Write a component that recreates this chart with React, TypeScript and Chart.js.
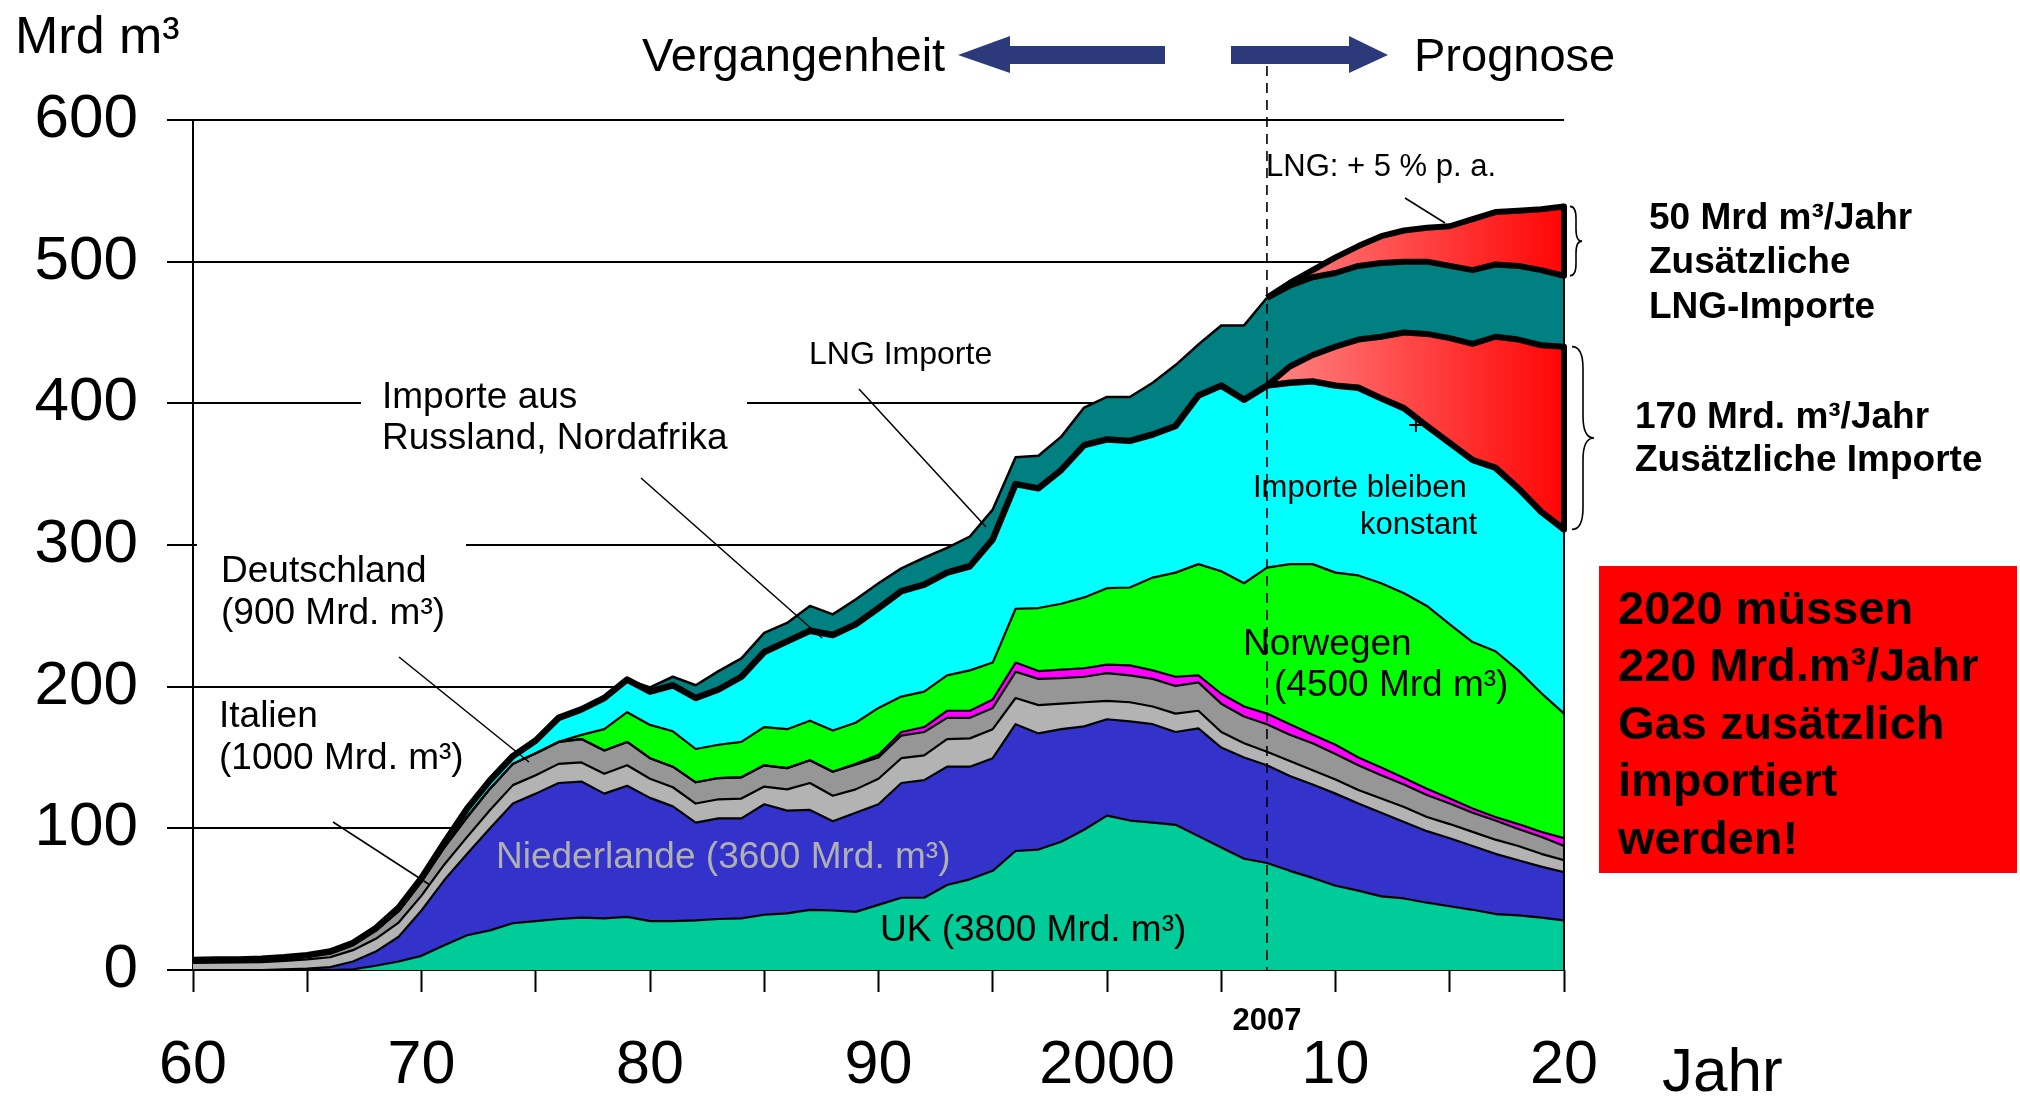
import React, { useEffect, useRef } from "react";
import { Chart, registerables } from "chart.js";

Chart.register(...registerables);

const FONT = "'Liberation Sans', Arial, Helvetica, sans-serif";

// Years on the x axis
const years: number[] = [];
for (let y = 1960; y <= 2020; y++) years.push(y);

const tickYears = [1960, 1970, 1980, 1990, 2000, 2010, 2020];
const tickLabels = ["60", "70", "80", "90", "2000", "10", "20"];
const forecastStart = 2007;

// Cumulative levels (Mrd m³): upper edge of each band, 1960..2020
const ukTop = [0, 0, 0, 0, 0, 0, 0, 0.5, 3, 6, 10, 17.5, 24.5, 28, 33, 34.5, 36, 37, 36.5, 37.5,
  34.5, 34.5, 35, 36, 36.5, 39, 40, 42.5, 42, 41, 46, 51, 51, 60, 64, 70, 84, 85, 90.5, 99,
  109, 105.5, 104, 102.5, 94.5, 86.5, 78.5, 75.5, 70, 65, 59.5, 56, 52, 50.5, 47.5, 45, 42.5, 39.5, 38.5, 37, 35];

const nlTop = [0, 0, 0, 0, 0.5, 1, 2, 6, 13, 23.5, 42, 63.5, 82, 100, 117.5, 124.5, 132, 133, 124.5, 130,
  121.5, 115.5, 104, 107, 107, 117, 112.5, 113, 105, 111, 117, 132, 134, 143.5, 143.5, 149.5, 173.5, 167, 170, 172,
  177, 175.5, 173.5, 168, 170.5, 157, 150, 144.5, 137, 131, 124.5, 117.5, 111, 104.5, 98, 93, 87.5, 82, 77.5, 73, 69];

const itTop = [5, 5.2, 5.4, 5.6, 6.5, 7.5, 9, 14, 22, 33.5, 52.5, 74.5, 94, 113, 130.5, 137.5, 145.5, 146.5, 138.5, 144.5,
  135, 129, 117.5, 120.5, 121, 129.5, 127.5, 132, 123, 127.5, 135, 149.5, 151.5, 163, 163.5, 170, 192, 187, 188, 189,
  190, 189, 186, 181, 183, 168, 160, 154, 147.5, 141, 134.5, 127, 121, 115, 108, 103, 97.5, 92, 87.5, 82, 77.5];

const deTop = [6, 6.2, 6.6, 7, 8, 9.5, 12, 18, 28, 41.5, 62.5, 86.5, 108, 128, 145.5, 153, 161, 163, 155, 161,
  149.5, 143.5, 132.5, 135.5, 136, 144.5, 142.5, 148, 140, 145, 150, 165.5, 168, 178, 178, 185, 210.5, 205.5, 206, 207,
  209.5, 208, 205.5, 200.5, 203, 188, 179, 173.5, 166, 160, 152.5, 144.5, 137.5, 131, 123.5, 117.5, 111, 105.5, 99.5, 94, 87.5];

const otherTop = [6, 6.2, 6.6, 7, 8, 9.5, 12, 18, 28, 41.5, 62.5, 86.5, 108, 128, 145.5, 153, 161, 163, 155, 161,
  149.5, 143.5, 132.5, 135.5, 136, 144.5, 142.5, 148, 140, 145.5, 152, 168, 171.5, 183, 183, 191, 217, 211, 212, 213,
  215.5, 215, 211.5, 207, 208, 195, 186, 181, 173.5, 166, 159, 150, 143, 135.5, 128, 121, 114, 108, 103, 97.5, 93];

const noTop = [6, 6.2, 6.6, 7, 8, 9.5, 12, 18, 28, 41.5, 62.5, 86.5, 108, 128, 145.5, 153, 161, 166, 170, 182,
  173, 168.5, 156, 159, 161, 171.5, 170, 176, 169, 174.5, 185, 193, 196.5, 208, 211.5, 217, 255, 255.5, 258.5, 263,
  269.5, 270, 277, 280.5, 286.5, 281.5, 273, 284, 286.5, 286.5, 280.5, 278.5, 273, 266, 257, 244, 231.5, 225, 211.5, 195.5, 181];

const importTop = [7, 7.5, 7.5, 8, 9, 10.5, 13, 19, 29.5, 44, 65, 90, 114, 134, 151, 162, 178, 184, 192, 205,
  196.5, 201, 192, 198, 207, 224.5, 232, 239.5, 236.5, 244, 255.5, 267.5, 272, 280.5, 285, 304, 343, 340, 353, 370.5,
  374.5, 373.5, 378, 384, 405.5, 412.5, 402.5, 412.5, 414.5, 415.5, 412.5, 411, 403.5, 396.5, 384, 372, 360, 354.5, 340, 323.5, 311];

const extraTop = [7, 7.5, 7.5, 8, 9, 10.5, 13, 19, 29.5, 44, 65, 90, 114, 134, 151, 162, 178, 184, 192, 205,
  196.5, 201, 192, 198, 207, 224.5, 232, 239.5, 236.5, 244, 255.5, 267.5, 272, 280.5, 285, 304, 343, 340, 353, 370.5,
  374.5, 373.5, 378, 384, 405.5, 412.5, 402.5, 412.5, 426, 434, 440, 445, 447, 450, 449, 446, 442, 447, 445, 441, 440];

const lngTop = [7, 7.5, 7.5, 8, 9, 10.5, 13, 19, 29.5, 44, 65, 90, 114, 134, 151, 162, 178, 184, 192, 205,
  199.5, 207, 201, 211, 220, 238, 245, 257, 251, 261.5, 273, 283.5, 291, 298, 306, 325, 362, 363, 376.5, 397,
  404.5, 404.5, 414.5, 427, 441.5, 455, 455, 474.5, 483, 489, 492, 497, 499, 500, 500, 497, 494, 498, 497, 494, 490];

const lngExtraTop = [7, 7.5, 7.5, 8, 9, 10.5, 13, 19, 29.5, 44, 65, 90, 114, 134, 151, 162, 178, 184, 192, 205,
  199.5, 207, 201, 211, 220, 238, 245, 257, 251, 261.5, 273, 283.5, 291, 298, 306, 325, 362, 363, 376.5, 397,
  404.5, 404.5, 414.5, 427, 441.5, 455, 455, 474.5, 485, 494, 503, 511, 518, 522, 524, 525, 530, 535, 536, 537, 539];

const toPoints = (arr: number[]) => years.map((x, i) => ({ x, y: arr[i] }));

const redGradient = (ctx: any) => {
  const chart = ctx.chart;
  if (!chart.chartArea) return "#ff4040";
  const xs = chart.scales.x;
  const g = chart.ctx.createLinearGradient(xs.getPixelForValue(forecastStart), 0, xs.getPixelForValue(2020), 0);
  g.addColorStop(0, "#ff8585");
  g.addColorStop(1, "#ff0505");
  return g;
};

function txt(c: CanvasRenderingContext2D, s: string, x: number, cy: number, size: number,
  bold = false, color = "#000", align: CanvasTextAlign = "left") {
  c.font = `${bold ? "bold " : ""}${size}px ${FONT}`;
  c.fillStyle = color;
  c.textAlign = align;
  c.textBaseline = "alphabetic";
  c.fillText(s, x, cy + size * 0.358);
}

function line(c: CanvasRenderingContext2D, x1: number, y1: number, x2: number, y2: number, w = 1.5) {
  c.beginPath();
  c.lineWidth = w;
  c.strokeStyle = "#000";
  c.moveTo(x1, y1);
  c.lineTo(x2, y2);
  c.stroke();
}

function brace(c: CanvasRenderingContext2D, x: number, y1: number, y2: number, w: number) {
  const ym = (y1 + y2) / 2;
  const r = Math.min(w, (y2 - y1) / 4);
  const xm = x + w / 2;
  c.beginPath();
  c.lineWidth = 1.6;
  c.strokeStyle = "#000";
  c.moveTo(x, y1);
  c.quadraticCurveTo(xm, y1, xm, y1 + r);
  c.lineTo(xm, ym - r);
  c.quadraticCurveTo(xm, ym, x + w, ym);
  c.quadraticCurveTo(xm, ym, xm, ym + r);
  c.lineTo(xm, y2 - r);
  c.quadraticCurveTo(xm, y2, x, y2);
  c.stroke();
}

const annotations = {
  id: "annotations",
  afterDraw(chart: any) {
    const c: CanvasRenderingContext2D = chart.ctx;
    const xs = chart.scales.x;
    const ys = chart.scales.y;
    const last = years.length - 1;
    const xR = xs.getPixelForValue(2020);
    c.save();

    // gaps in the grid behind the labels
    c.fillStyle = "#fff";
    const g300 = ys.getPixelForValue(300);
    const g400 = ys.getPixelForValue(400);
    c.fillRect(197, g300 - 3, 466 - 197, 6);
    c.fillRect(361, g400 - 3, 747 - 361, 6);

    // right edge of the areas
    line(c, xR, ys.getPixelForValue(0), xR, ys.getPixelForValue(lngTop[last]), 2);
    c.lineCap = "round";
    line(c, xR, ys.getPixelForValue(importTop[last]), xR, ys.getPixelForValue(extraTop[last]), 6);
    line(c, xR, ys.getPixelForValue(lngTop[last]), xR, ys.getPixelForValue(lngExtraTop[last]), 6);
    c.lineCap = "butt";

    // dashed 2007 line
    const x07 = xs.getPixelForValue(forecastStart);
    c.save();
    c.setLineDash([10, 7]);
    line(c, x07, 66, x07, ys.getPixelForValue(0), 1.6);
    c.restore();

    // arrows
    c.fillStyle = "#2c3a7c";
    c.beginPath();
    c.moveTo(958, 55); c.lineTo(1010, 36); c.lineTo(1010, 46); c.lineTo(1165, 46);
    c.lineTo(1165, 64); c.lineTo(1010, 64); c.lineTo(1010, 73); c.closePath(); c.fill();
    c.beginPath();
    c.moveTo(1388, 55); c.lineTo(1349, 36); c.lineTo(1349, 46); c.lineTo(1231, 46);
    c.lineTo(1231, 64); c.lineTo(1349, 64); c.lineTo(1349, 73); c.closePath(); c.fill();

    // pointer lines
    line(c, 641, 478, 822, 638, 1.5);
    line(c, 859, 389, 986, 527, 1.5);
    line(c, 399, 657, 529, 762, 1.5);
    line(c, 333, 822, 430, 885, 1.5);
    line(c, 1405, 198, 1445, 223, 1.5);

    // braces
    brace(c, 1570, ys.getPixelForValue(lngExtraTop[last]), ys.getPixelForValue(lngTop[last]), 12);
    brace(c, 1572, ys.getPixelForValue(extraTop[last]), ys.getPixelForValue(importTop[last]), 22);

    // texts
    txt(c, "Mrd m³", 15, 34, 52);
    txt(c, "Vergangenheit", 642, 54, 47);
    txt(c, "Prognose", 1414, 54, 47);
    txt(c, "LNG: + 5 % p. a.", 1266, 165, 31);
    txt(c, "Importe aus", 382, 395, 37);
    txt(c, "Russland, Nordafrika", 382, 436, 37);
    txt(c, "LNG Importe", 809, 353, 32);
    txt(c, "Deutschland", 221, 569, 37);
    txt(c, "(900 Mrd. m³)", 221, 611, 37);
    txt(c, "Italien", 219, 714, 37);
    txt(c, "(1000 Mrd. m³)", 219, 756, 37);
    txt(c, "Niederlande (3600 Mrd. m³)", 496, 855, 37, false, "#b0b0b0");
    txt(c, "UK (3800 Mrd. m³)", 880, 928, 37);
    txt(c, "Norwegen", 1243, 642, 37);
    txt(c, "(4500 Mrd m³)", 1274, 683, 37);
    txt(c, "Importe bleiben", 1253, 486, 31);
    txt(c, "konstant", 1360, 523, 31);
    txt(c, "+", 1416, 424, 28, false, "#000", "center");
    txt(c, "50 Mrd m³/Jahr", 1649, 216, 37, true);
    txt(c, "Zusätzliche", 1649, 260, 37, true);
    txt(c, "LNG-Importe", 1649, 305, 37, true);
    txt(c, "170 Mrd. m³/Jahr", 1635, 415, 37, true);
    txt(c, "Zusätzliche Importe", 1635, 458, 37, true);
    txt(c, "2007", x07, 1019, 31, true, "#000", "center");
    txt(c, "Jahr", 1662, 1069, 62);

    // red box
    c.fillStyle = "#ff0000";
    c.fillRect(1599, 566, 418, 307);
    const boxLines = ["2020 müssen", "220 Mrd.m³/Jahr", "Gas zusätzlich", "importiert", "werden!"];
    boxLines.forEach((s, i) => txt(c, s, 1618, 607 + i * 57.5, 47, true, "#000"));

    c.restore();
  },
};

export default function App() {
  const ref = useRef<HTMLCanvasElement | null>(null);
  useEffect(() => {
    if (!ref.current) return;
    const solid = (label: string, data: number[], bg: string, width: number, fill: any = "-1") => ({
      label, data: toPoints(data), backgroundColor: bg, borderColor: "#000", borderWidth: width, fill,
      borderCapStyle: "round",
    });
    const chart = new Chart(ref.current, {
      type: "line",
      data: {
        datasets: [
          solid("UK", ukTop, "#00cc99", 2.2, "origin"),
          solid("Niederlande", nlTop, "#3333cc", 2.2),
          solid("Italien", itTop, "#b3b3b3", 2.2),
          solid("Deutschland", deTop, "#969696", 2.2),
          solid("Sonstige", otherTop, "#ff00ff", 2.2),
          solid("Norwegen", noTop, "#00ff00", 2.2),
          solid("Importe", importTop, "#00ffff", 6.5),
          {
            label: "Zusätzliche Importe", data: toPoints(extraTop), backgroundColor: redGradient,
            borderColor: "#000", borderWidth: 6, fill: "-1",
            segment: { borderColor: (ctx: any) => (ctx.p0.parsed.x >= forecastStart ? "#000" : "rgba(0,0,0,0)") },
          },
          {
            label: "LNG Importe", data: toPoints(lngTop), backgroundColor: "#008080",
            borderColor: "#000", borderWidth: 2.5, fill: "-1",
            segment: { borderWidth: (ctx: any) => (ctx.p0.parsed.x >= forecastStart ? 6 : 2.5) },
          },
          {
            label: "Zusätzliche LNG-Importe", data: toPoints(lngExtraTop), backgroundColor: redGradient,
            borderColor: "#000", borderWidth: 6, fill: "-1",
            segment: { borderColor: (ctx: any) => (ctx.p0.parsed.x >= forecastStart ? "#000" : "rgba(0,0,0,0)") },
          },
        ] as any,
      },
      options: {
        responsive: false,
        animation: false,
        devicePixelRatio: 1,
        layout: { padding: { left: 0, right: 456, top: 120, bottom: 0 } },
        elements: { point: { radius: 0 }, line: { tension: 0, borderJoinStyle: "round" } },
        plugins: {
          legend: { display: false },
          tooltip: { enabled: false },
          filler: { drawTime: "beforeDatasetsDraw", propagate: false },
        } as any,
        scales: {
          x: {
            type: "linear", min: 1960, max: 2020,
            afterFit: (s: any) => { s.height = 128; },
            ticks: {
              stepSize: 5, autoSkip: false, maxRotation: 0, minRotation: 0, color: "#000", padding: 38,
              font: { family: FONT, size: 61 },
              callback: (v: any) => { const i = tickYears.indexOf(Number(v)); return i >= 0 ? tickLabels[i] : ""; },
            },
            grid: { drawOnChartArea: false, drawTicks: true, tickLength: 22, tickColor: "#000", tickWidth: 2, color: "#000" },
            border: { display: false },
          },
          y: {
            min: 0, max: 600,
            afterFit: (s: any) => { s.width = 193; },
            ticks: { stepSize: 100, color: "#000", padding: 29, font: { family: FONT, size: 62 } },
            grid: { color: "#000", lineWidth: 2, tickLength: 26, drawTicks: true, tickColor: "#000", tickWidth: 2 },
            border: { display: true, color: "#000", width: 2 },
          },
        } as any,
      },
      plugins: [annotations],
    });
    return () => chart.destroy();
  }, []);
  return (
    <div style={{ position: "fixed", left: 0, top: 0, width: 2020, height: 1098, background: "#fff" }}>
      <canvas ref={ref} width={2020} height={1098} style={{ display: "block" }} />
    </div>
  );
}
